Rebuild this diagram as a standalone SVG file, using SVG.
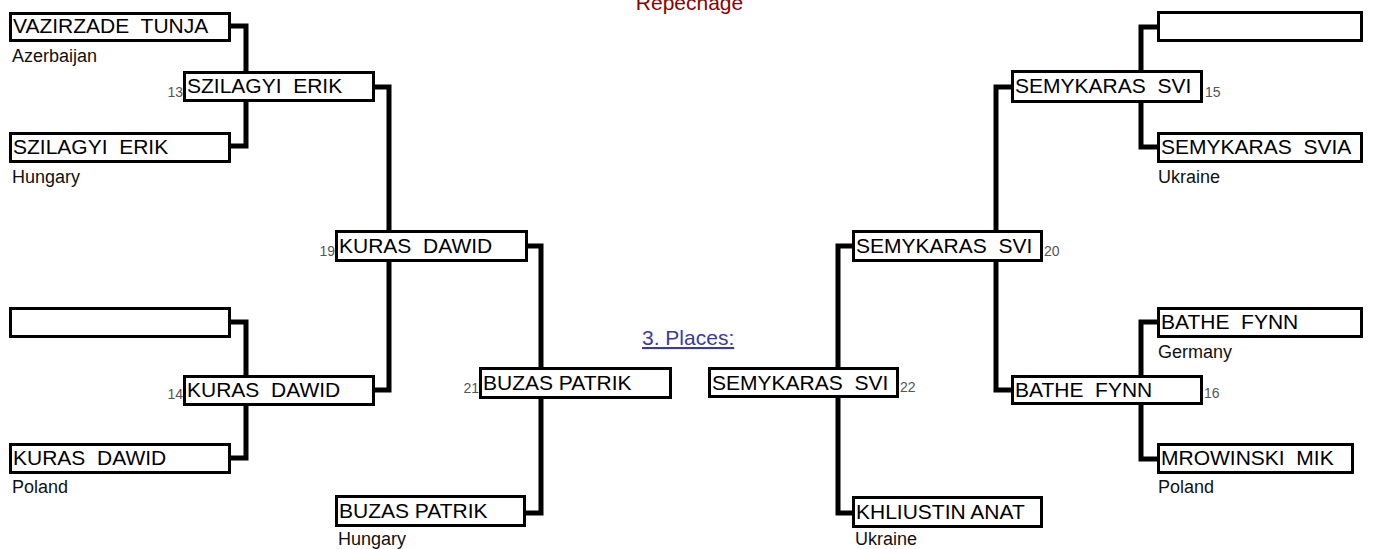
<svg xmlns="http://www.w3.org/2000/svg" width="1373" height="549" viewBox="0 0 1373 549">
<style>
.box{fill:#fff;stroke:#000;stroke-width:3}
.con{fill:none;stroke:#000;stroke-width:5;stroke-linejoin:miter}
.nm{font-family:"Liberation Sans",Arial,sans-serif;font-size:21px;fill:#000;white-space:pre}
.ct{font-family:"Liberation Sans",Arial,sans-serif;font-size:18px;fill:#111}
.no{font-family:"Liberation Sans",Arial,sans-serif;font-size:14px;fill:#555}
.nol{font-family:"Liberation Sans",Arial,sans-serif;font-size:14px;fill:#555;text-anchor:end}
</style>
<rect width="1373" height="549" fill="#fff"/>
<g id="connectors">
<path class="con" d="M231,26 H246 V146 H231"/>
<path class="con" d="M231,322 H246 V458 H231"/>
<path class="con" d="M375,87 H389 V390 H375"/>
<path class="con" d="M528,246 H541 V513 H526"/>
<path class="con" d="M852,246 H838 V513 H852"/>
<path class="con" d="M1011,87 H996 V390 H1011"/>
<path class="con" d="M1157,27 H1141 V147 H1157"/>
<path class="con" d="M1157,322 H1141 V459 H1157"/>
</g>
<text x="689.5" y="10" text-anchor="middle" font-family="Liberation Sans, Arial, sans-serif" font-size="21" fill="#8b0000">Repechage</text>
<text x="642" y="345" font-family="Liberation Sans, Arial, sans-serif" font-size="21" fill="#3a3aa6" text-decoration="underline">3. Places:</text>
<g id="a1"><rect class="box" x="10.5" y="13.5" width="219" height="27"/><text class="nm" x="13" y="33">VAZIRZADE&#160; TUNJA</text><text class="ct" x="12" y="62">Azerbaijan</text></g>
<g id="a2"><rect class="box" x="10.5" y="133.5" width="219" height="28"/><text class="nm" x="13" y="154">SZILAGYI&#160; ERIK</text><text class="ct" x="12" y="183">Hungary</text></g>
<g id="a3"><rect class="box" x="10.5" y="308.5" width="219" height="28"/></g>
<g id="a4"><rect class="box" x="10.5" y="444.5" width="219" height="28"/><text class="nm" x="13" y="465">KURAS&#160; DAWID</text><text class="ct" x="12" y="493">Poland</text></g>
<g id="b13"><rect class="box" x="184.5" y="72.5" width="189" height="28"/><text class="nm" x="187" y="93">SZILAGYI&#160; ERIK</text><text class="nol" x="183" y="97">13</text></g>
<g id="b14"><rect class="box" x="184.5" y="376.5" width="189" height="28"/><text class="nm" x="187" y="397">KURAS&#160; DAWID</text><text class="nol" x="183" y="399">14</text></g>
<g id="c19"><rect class="box" x="336.5" y="231.5" width="190" height="29"/><text class="nm" x="339" y="253">KURAS&#160; DAWID</text><text class="nol" x="335" y="256">19</text></g>
<g id="cbuzas"><rect class="box" x="336.5" y="496.5" width="188" height="29"/><text class="nm" x="339" y="518">BUZAS PATRIK</text><text class="ct" x="338" y="545">Hungary</text></g>
<g id="d21"><rect class="box" x="480.5" y="368.5" width="190" height="29"/><text class="nm" x="483" y="390">BUZAS PATRIK</text><text class="nol" x="479" y="393">21</text></g>
<g id="e22"><rect class="box" x="709.5" y="368.5" width="188" height="28"/><text class="nm" x="712" y="390">SEMYKARAS&#160; SVI</text><text class="no" x="900" y="392">22</text></g>
<g id="f20"><rect class="box" x="853.5" y="231.5" width="188" height="29"/><text class="nm" x="856" y="253">SEMYKARAS&#160; SVI</text><text class="no" x="1044" y="256">20</text></g>
<g id="fkhl"><rect class="box" x="853.5" y="497.5" width="188" height="29"/><text class="nm" x="856" y="519">KHLIUSTIN ANAT</text><text class="ct" x="855" y="545">Ukraine</text></g>
<g id="g15"><rect class="box" x="1012.5" y="71.5" width="189" height="30"/><text class="nm" x="1015" y="93">SEMYKARAS&#160; SVI</text><text class="no" x="1205" y="97">15</text></g>
<g id="g16"><rect class="box" x="1012.5" y="376.5" width="189" height="27"/><text class="nm" x="1015" y="397">BATHE&#160; FYNN</text><text class="no" x="1204" y="398">16</text></g>
<g id="h1"><rect class="box" x="1158.5" y="12.5" width="203" height="28"/></g>
<g id="h2"><rect class="box" x="1158.5" y="133.5" width="203" height="28"/><text class="nm" x="1161" y="154">SEMYKARAS&#160; SVIA</text><text class="ct" x="1158" y="183">Ukraine</text></g>
<g id="h3"><rect class="box" x="1158.5" y="308.5" width="203" height="28"/><text class="nm" x="1161" y="329">BATHE&#160; FYNN</text><text class="ct" x="1158" y="358">Germany</text></g>
<g id="h4"><rect class="box" x="1158.5" y="444.5" width="194" height="28"/><text class="nm" x="1161" y="465">MROWINSKI&#160; MIK</text><text class="ct" x="1158" y="493">Poland</text></g>
</svg>
